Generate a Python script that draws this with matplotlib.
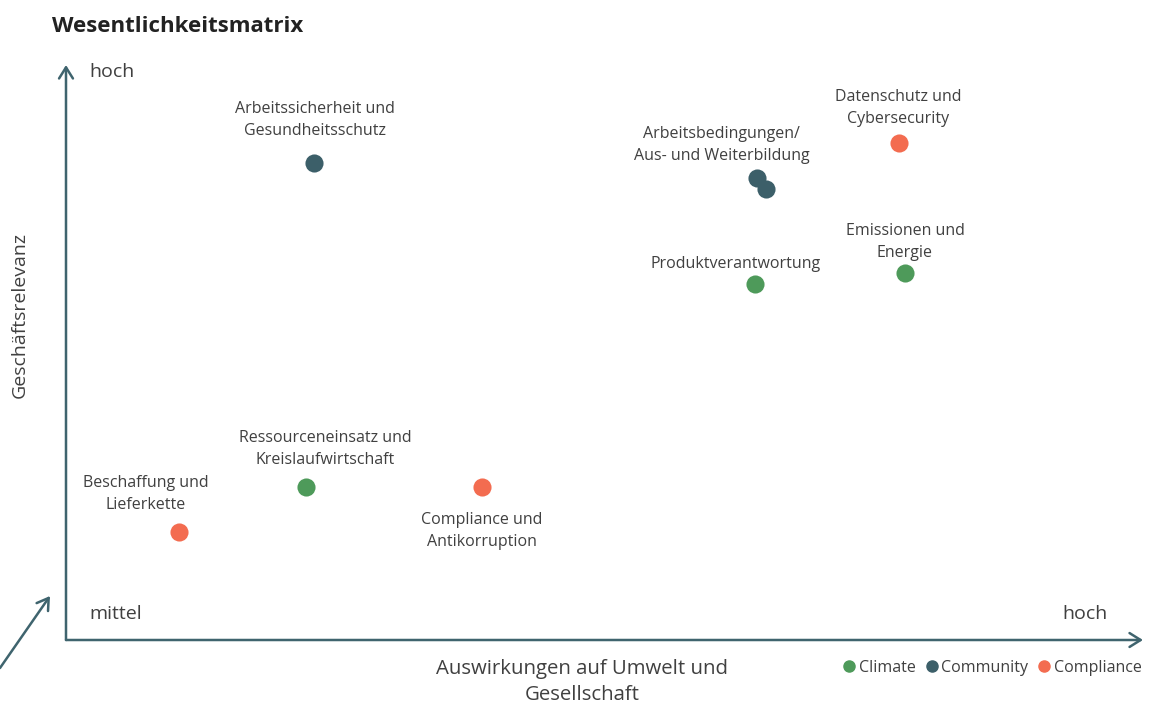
import matplotlib.pyplot as plt

W, H = 1155, 706

# topics, scores (0-10 scale), category
topics = [
    "Arbeitssicherheit und\nGesundheitsschutz",
    "Arbeitsbedingungen/\nAus- und Weiterbildung",
    "",
    "Datenschutz und\nCybersecurity",
    "Produktverantwortung",
    "Emissionen und\nEnergie",
    "Ressourceneinsatz und\nKreislaufwirtschaft",
    "Beschaffung und\nLieferkette",
    "Compliance und\nAntikorruption",
]
impact = [2.30, 6.42, 6.50, 7.73, 6.40, 7.79, 2.23, 1.05, 3.86]
relevance = [8.30, 8.03, 7.84, 8.64, 6.19, 6.38, 2.66, 1.88, 2.66]
category = ["Community", "Community", "Community", "Compliance",
            "Climate", "Climate", "Climate", "Compliance", "Compliance"]
# label offset in points (dx, dy)
label_off = [(1, 17), (-26, 10), (0, 0), (0, 12), (-14, 9),
             (0, 9), (14, 13.5), (-24, 13.5), (0, -18)]

colors = {"Climate": "#4e9a5a", "Community": "#3c5f69", "Compliance": "#f36c50"}
axis_col = "#3f646e"
txt_col = "#404040"

plt.rcParams['font.family'] = ['Open Sans', 'DejaVu Sans']

fig = plt.figure(figsize=(W / 100, H / 100), dpi=100)
ax = fig.add_axes([66 / W, (H - 640) / H, (1143 - 66) / W, (640 - 65) / H])
ax.set_xlim(0, 10)
ax.set_ylim(0, 10)
ax.axis("off")

for i in range(len(topics)):
    ax.scatter(impact[i], relevance[i], s=170, color=colors[category[i]],
               zorder=3, linewidths=0)
    if topics[i]:
        dx, dy = label_off[i]
        ax.annotate(topics[i], (impact[i], relevance[i]), xytext=(dx, dy),
                    textcoords="offset points", ha="center",
                    va="bottom" if dy > 0 else "top", fontsize=11.5,
                    color=txt_col, linespacing=1.5)

# axes arrows
arrow = dict(arrowstyle="->,head_length=0.8,head_width=0.5", color=axis_col, lw=1.8,
             shrinkA=0, shrinkB=0)
ax.annotate("", xy=(0, 1), xytext=(0, 0), xycoords="axes fraction", arrowprops=arrow)
ax.annotate("", xy=(1, 0), xytext=(0, 0), xycoords="axes fraction", arrowprops=arrow)
ax.annotate("", xy=(50 / W, 1 - 596 / H), xytext=(0, 1 - 668 / H),
            xycoords="figure fraction", textcoords="figure fraction",
            arrowprops=arrow, annotation_clip=False)

fig.text(52 / W, 1 - 27 / H, "Wesentlichkeitsmatrix", fontsize=16, fontweight="bold",
         color="#222222", va="center")
fig.text(89 / W, 1 - 72 / H, "hoch", fontsize=14, color=txt_col, va="center")
fig.text(89 / W, 1 - 614 / H, "mittel", fontsize=14, color=txt_col, va="center")
fig.text(1108 / W, 1 - 614 / H, "hoch", fontsize=14, color=txt_col, va="center", ha="right")
fig.text(20 / W, 1 - 315 / H, "Geschäftsrelevanz", fontsize=14, color=txt_col,
         rotation=90, va="center", ha="center")
fig.text(582 / W, 1 - 682 / H, "Auswirkungen auf Umwelt und\nGesellschaft", fontsize=14.7,
         color=txt_col, va="center", ha="center", linespacing=1.4)

# legend
handles = [plt.Line2D([], [], marker="o", ls="", color=colors[c], markersize=8, label=c)
           for c in ["Climate", "Community", "Compliance"]]
fig.legend(handles=handles, loc="center right", bbox_to_anchor=(1156 / W, 1 - 668 / H),
           ncol=3, frameon=False, fontsize=11.5, handletextpad=0.1, columnspacing=0.5,
           handlelength=1.0, labelcolor=txt_col)

fig.savefig("out.png", dpi=100)
